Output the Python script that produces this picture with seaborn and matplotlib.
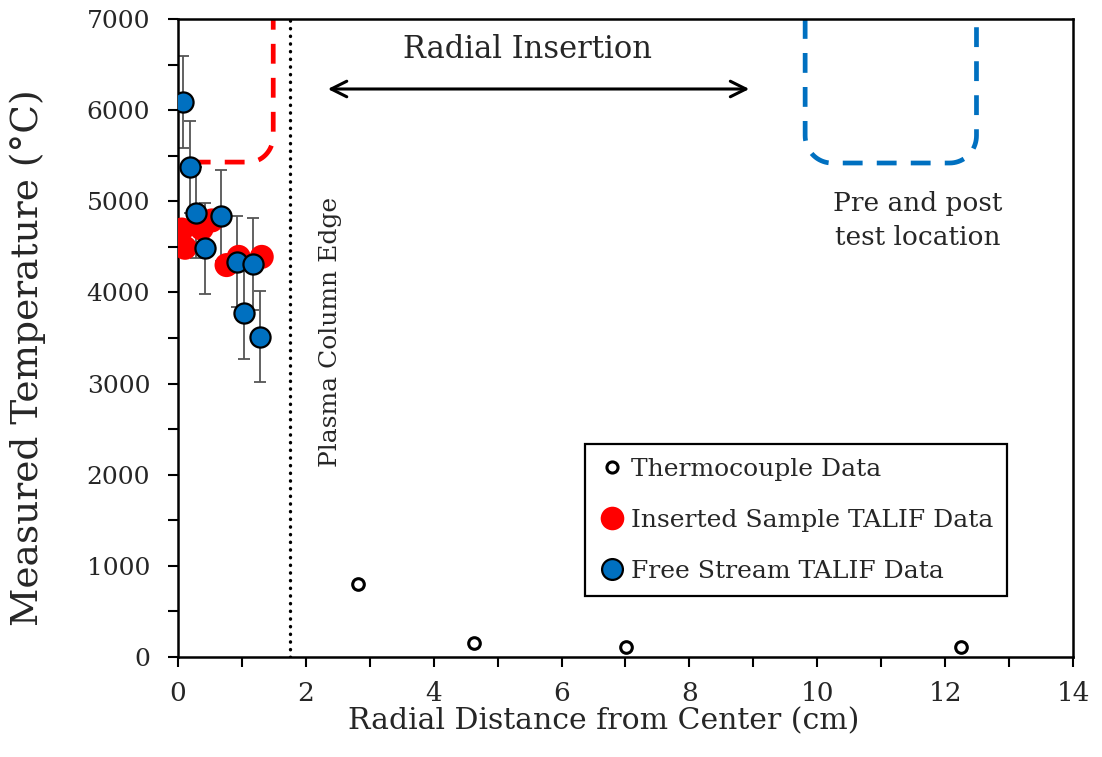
import numpy as np
import pandas as pd
import matplotlib
matplotlib.use("Agg")
import matplotlib.pyplot as plt
import seaborn as sns
from matplotlib.lines import Line2D

# ---- data ----
tc_x = [2.82, 4.63, 7.01, 12.25]
tc_y = [800, 150, 108, 108]

ins_x = [0.06, 0.11, 0.37, 0.53, 0.76, 0.95, 1.31]
ins_y = [4690, 4490, 4700, 4790, 4300, 4390, 4390]

fs_x = [0.08, 0.19, 0.28, 0.67, 0.43, 0.92, 1.18, 1.03, 1.28]
fs_y = [6090, 5376, 4875, 4840, 4484, 4337, 4312, 3770, 3512]
fs_err = [500, 500, 500, 500, 500, 500, 500, 500, 500]

x_ticks = [0, 2, 4, 6, 8, 10, 12, 14]
y_ticks = [0, 1000, 2000, 3000, 4000, 5000, 6000, 7000]

plasma_edge = 1.75

sns.set_theme(style="ticks")
plt.rcParams['font.family'] = ['DejaVu Serif', 'Liberation Serif']

fig = plt.figure(figsize=(11.02, 7.57), dpi=100)
ax = fig.add_axes([0.1615, 0.1321, 0.9737 - 0.1615, 0.9749 - 0.1321])

# error bars first
ax.errorbar(fs_x, fs_y, yerr=fs_err, fmt='none', ecolor='#555555',
            elinewidth=1.3, capsize=4.5, capthick=1.3, zorder=2)

df_tc = pd.DataFrame({'x': tc_x, 'y': tc_y})
df_ins = pd.DataFrame({'x': ins_x, 'y': ins_y})
df_fs = pd.DataFrame({'x': fs_x, 'y': fs_y})

sns.scatterplot(data=df_tc, x='x', y='y', ax=ax, s=70, marker='o',
                facecolor='white', edgecolor='black', linewidth=2.2, zorder=3)
sns.scatterplot(data=df_ins, x='x', y='y', ax=ax, s=300, marker='o',
                color='#FF0000', edgecolor='none', linewidth=0, zorder=3)
sns.scatterplot(data=df_fs, x='x', y='y', ax=ax, s=210, marker='o',
                color='#0070C0', edgecolor='black', linewidth=1.6, zorder=4)

# plasma column edge
ax.axvline(plasma_edge, color='black', lw=2.4, linestyle=(0, (0.1, 2.2)),
           dash_capstyle='round', zorder=1)

# rounded dashed brackets
def bracket(x_right, y_bottom, x_left_end=None, x_left=None, rx=0.42, ry=290):
    t = np.linspace(0, np.pi / 2, 20)
    xs, ys = [], []
    if x_left is not None:
        xs += [x_left, x_left]
        ys += [7000, y_bottom + ry]
        cx, cy = x_left + rx, y_bottom + ry
        xs += list(cx - rx * np.cos(t))
        ys += list(cy - ry * np.sin(t))
    else:
        xs += [x_left_end]
        ys += [y_bottom]
    cx, cy = x_right - rx, y_bottom + ry
    xs += list(cx + rx * np.sin(t))
    ys += list(cy - ry * np.cos(t))
    xs += [x_right]
    ys += [7000]
    return xs, ys

rx_, ry_ = bracket(1.49, 5430, x_left_end=0.2, rx=0.38, ry=290)
ax.plot(rx_, ry_, color='#FF0000', lw=3.4, linestyle=(0, (4.2, 3.0)), zorder=1)
bx_, by_ = bracket(12.49, 5420, x_left=9.81, rx=0.42, ry=300)
ax.plot(bx_, by_, color='#0070C0', lw=3.4, linestyle=(0, (4.2, 3.0)), zorder=1)

# annotations
ax.annotate('', xy=(8.98, 6232), xytext=(2.3, 6232),
            arrowprops=dict(arrowstyle='<->', lw=2.2, color='black',
                            mutation_scale=28))
ax.text(5.47, 6660, 'Radial Insertion', ha='center', va='center', fontsize=22)
ax.text(2.38, 3570, 'Plasma Column Edge', rotation=90, ha='center', va='center',
        fontsize=18)
ax.text(11.57, 4790, 'Pre and post\ntest location', ha='center', va='center',
        fontsize=19, linespacing=1.45)

ax.set_xlim(0, 14)
ax.set_ylim(0, 7000)
ax.set_xticks(x_ticks)
ax.set_yticks(y_ticks)
ax.set_xticks(np.arange(1, 14, 2), minor=True)
ax.set_yticks(np.arange(500, 7000, 1000), minor=True)
ax.tick_params(axis='both', which='both', direction='out', length=7, width=1.5,
               color='black')
ax.tick_params(axis='x', labelsize=19, pad=10)
ax.tick_params(axis='y', labelsize=18, pad=13)
for sp in ax.spines.values():
    sp.set_visible(True)
    sp.set_color('black')
    sp.set_linewidth(1.8)

ax.set_xlabel('Radial Distance from Center (cm)', fontsize=21.5)
ax.set_ylabel('Measured Temperature (°C)', fontsize=27)
ax.xaxis.set_label_coords(0.476, -0.079)
ax.yaxis.set_label_coords(-0.148, 0.47)

handles = [
    Line2D([], [], marker='o', linestyle='none', markersize=8,
           markerfacecolor='white', markeredgecolor='black', markeredgewidth=2.2),
    Line2D([], [], marker='o', linestyle='none', markersize=17,
           markerfacecolor='#FF0000', markeredgecolor='none'),
    Line2D([], [], marker='o', linestyle='none', markersize=15,
           markerfacecolor='#0070C0', markeredgecolor='black', markeredgewidth=1.6),
]
labels = ['Thermocouple Data', 'Inserted Sample TALIF Data', 'Free Stream TALIF Data']
leg = ax.legend(handles, labels, loc='lower right', bbox_to_anchor=(0.9265, 0.095),
                fontsize=18, frameon=True, fancybox=False, handletextpad=0.2,
                handlelength=1.1, borderpad=0.55, labelspacing=1.12,
                borderaxespad=0, edgecolor='black', framealpha=1)
leg.get_frame().set_linewidth(1.6)

fig.savefig('out.png', dpi=100)
